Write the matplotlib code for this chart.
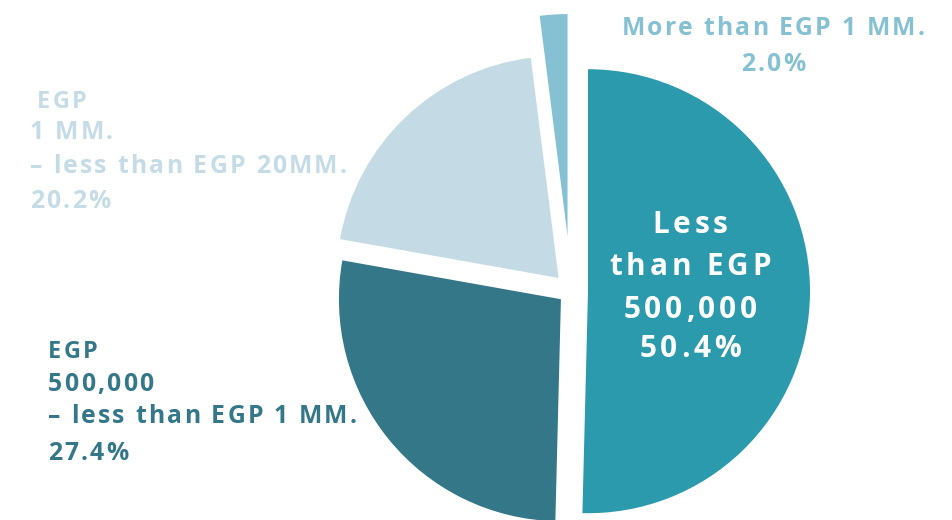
import matplotlib
matplotlib.use("Agg")
import matplotlib.pyplot as plt
from matplotlib import font_manager
from matplotlib.font_manager import FontProperties
from matplotlib.ft2font import FT2Font, LoadFlags

# Data (clockwise from 12 o'clock)
categories = ["Less than EGP 500,000",
              "EGP 500,000 – less than EGP 1 MM.",
              "EGP 1 MM. – less than EGP 20MM.",
              "More than EGP 1 MM."]
shares = [50.4, 27.4, 20.2, 2.0]
colors = ["#2a9aac", "#337789", "#c4dbe5", "#85c1d2"]
explode = [17, 13, 18, 55]

W, H = 953, 520
fig = plt.figure(figsize=(W / 100, H / 100), dpi=100)
ax = fig.add_axes([0, 0, 1, 1])

R = 222
cx, cy = 571, H - 291
ax.pie(shares, colors=colors, startangle=90, counterclock=False,
       explode=explode, radius=R, center=(cx, cy),
       wedgeprops=dict(linewidth=0))
ax.set_xlim(0, W)
ax.set_ylim(0, H)
ax.set_aspect("equal")
ax.axis("off")

FONT = "Open Sans"
fp = FontProperties(family=FONT, weight="bold")
ft = FT2Font(font_manager.findfont(fp))


def advances(s, size):
    ft.set_size(size, 100)
    out = []
    for c in s:
        g = ft.load_char(ord(c), flags=LoadFlags.NO_HINTING)
        out.append(g.linearHoriAdvance / 65536.0)
    return out


def put(x, ybase, s, color, size, track, ha="left"):
    adv = advances(s, size)
    total = sum(adv) + track * (len(s) - 1)
    x0 = x - total / 2 if ha == "center" else x
    pos = x0
    for c, a in zip(s, adv):
        if c != " ":
            ax.text(pos, H - ybase, c, color=color, fontsize=size,
                    fontproperties=fp, ha="left", va="baseline")
        pos += a + track


SIDE, STR = 17.8, 2.2
# Light slice label
lc = "#c5dce6"
put(37, 108, "EGP", lc, 16.8, STR)
put(30, 139, "1 MM.", lc, SIDE, STR)
put(30, 173, "– less than EGP 20MM.", lc, SIDE, STR)
put(30, 208, f"{shares[2]:.1f}%", lc, SIDE, STR)

# Dark slice label
dc = "#337789"
put(48, 358, "EGP", dc, 16.8, STR)
put(48, 391, "500,000", dc, SIDE, STR)
put(48, 423, "– less than EGP 1 MM.", dc, SIDE, STR)
put(48, 460, f"{shares[1]:.1f}%", dc, SIDE, STR)

# Small slice label
sc = "#85c1d2"
put(773, 35, "More than EGP 1 MM.", sc, SIDE, STR, ha="center")
put(773, 71, f"{shares[3]:.1f}%", sc, SIDE, STR, ha="center")

# Main slice label
for yb, s in zip([233, 275, 318, 357],
                 ["Less", "than EGP", "500,000", f"{shares[0]:.1f}%"]):
    put(690, yb, s, "white", 21.4, 3.8, ha="center")

fig.savefig("out.png", dpi=100)
